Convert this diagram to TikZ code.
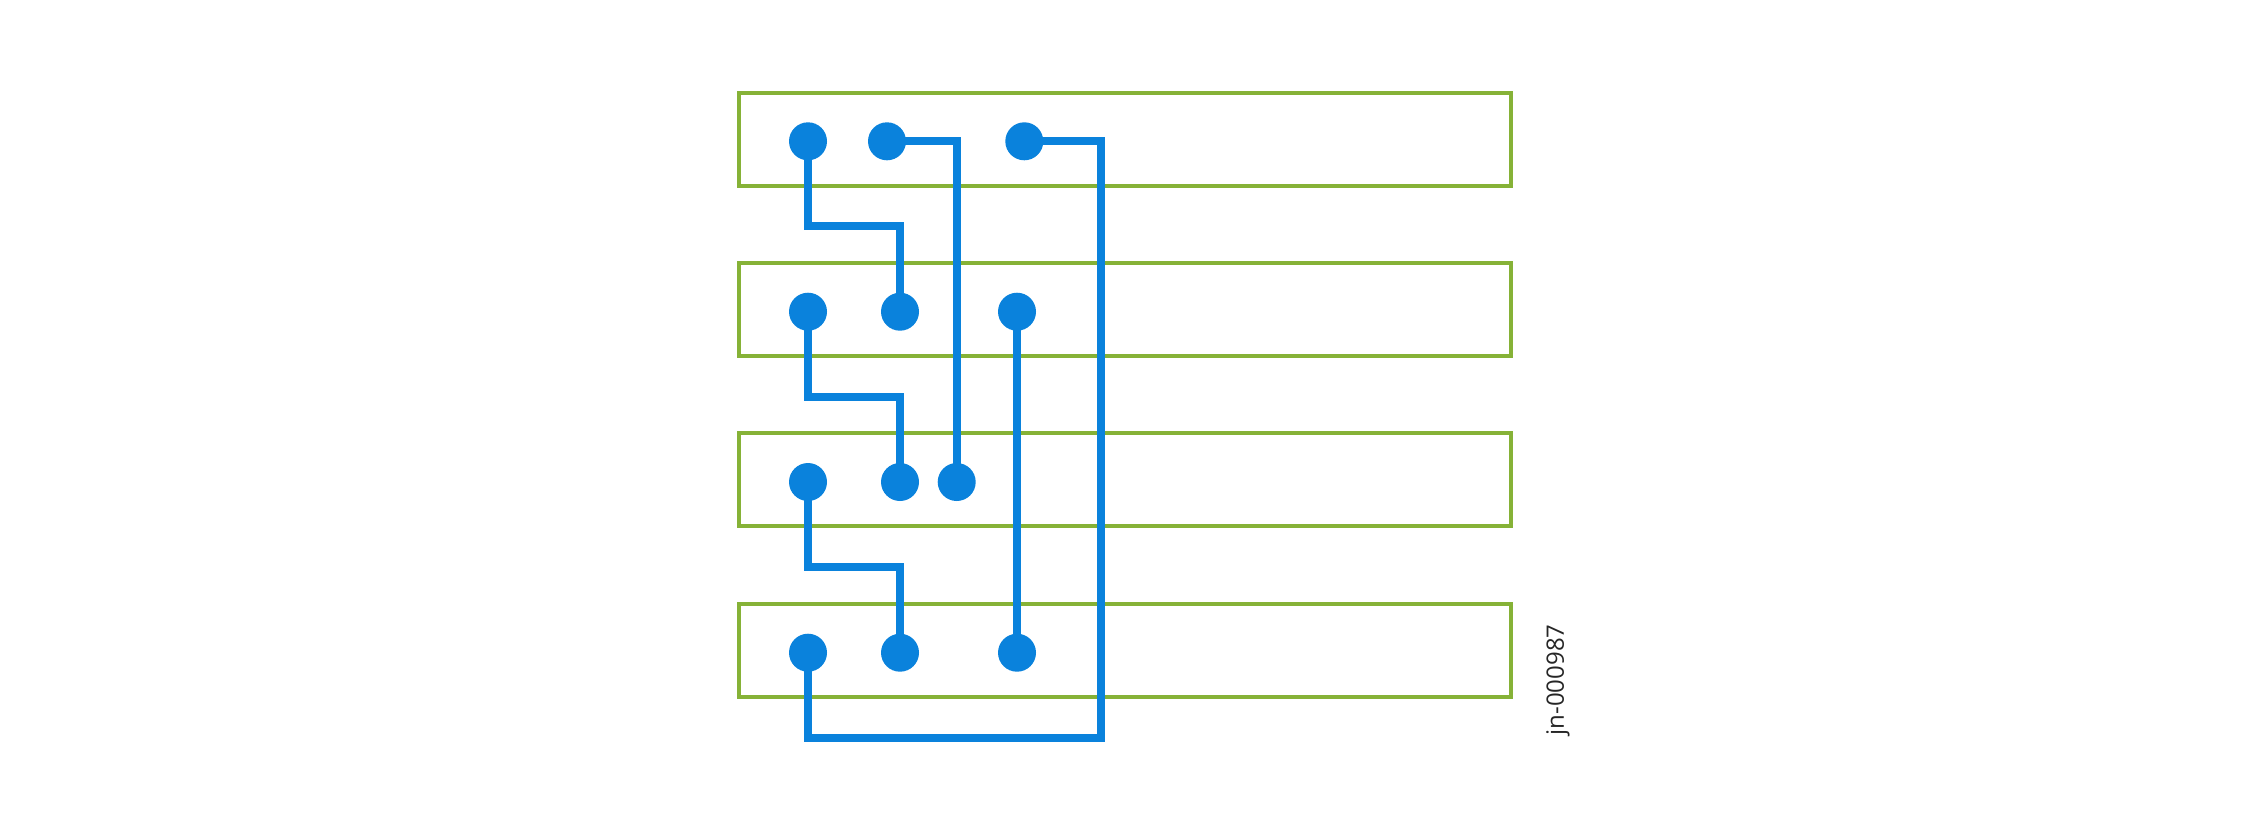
\documentclass[tikz,border=0pt]{standalone}
\usepackage{fontspec}
\newfontfamily\labelfont{Open Sans}
\definecolor{wireblue}{RGB}{10,130,220}
\definecolor{boxgreen}{RGB}{134,178,55}
\pgfdeclarelayer{bg}
\pgfdeclarelayer{mid}
\pgfsetlayers{bg,mid,main}
\begin{document}
\begin{tikzpicture}[x=1pt,y=-1pt,
  rowbox/.style={draw=boxgreen,line width=4pt,minimum width=772.3pt,minimum height=92.7pt,inner sep=0pt},
  dot/.style={circle,fill=wireblue,minimum size=38pt,inner sep=0pt},
  wire/.style={draw=wireblue,line width=8pt}]
\useasboundingbox (0,0) rectangle (2250,830);
% rows
\begin{pgfonlayer}{bg}
\node[rowbox] (r1) at (1124.85,139.7) {};
\node[rowbox] (r2) at (1124.85,309.7) {};
\node[rowbox] (r3) at (1124.85,479.7) {};
\node[rowbox] (r4) at (1124.85,650.2) {};
\end{pgfonlayer}
% dots
\node[dot] (d11) at (808,141.3) {};
\node[dot] (d12) at (887,141.3) {};
\node[dot] (d13) at (1024.3,141.3) {};
\node[dot] (d21) at (808,311.7) {};
\node[dot] (d22) at (900,311.7) {};
\node[dot] (d23) at (1017,311.7) {};
\node[dot] (d31) at (808,482) {};
\node[dot] (d32) at (900,482) {};
\node[dot] (d33) at (956.7,482) {};
\node[dot] (d41) at (808,652.7) {};
\node[dot] (d42) at (900,652.7) {};
\node[dot] (d43) at (1017,652.7) {};
\coordinate (c3) at (1101.3,737.7);
% wires
\begin{pgfonlayer}{mid}
\draw[wire] (d11.center) -- ++(0,85) -| (d22.center);
\draw[wire] (d12.center) -| (d33.center);
\draw[wire] (d13.center) -| (c3) -| (d41.center);
\draw[wire] (d21.center) -- ++(0,85) -| (d32.center);
\draw[wire] (d23.center) -- (d43.center);
\draw[wire] (d31.center) -- ++(0,85) -| (d42.center);
\end{pgfonlayer}
\node[rotate=90,font=\labelfont\fontsize{24}{28}\selectfont,text=black!85,inner sep=0pt] (lbl) at (1558,680) {jn-000987};
\end{tikzpicture}
\end{document}
